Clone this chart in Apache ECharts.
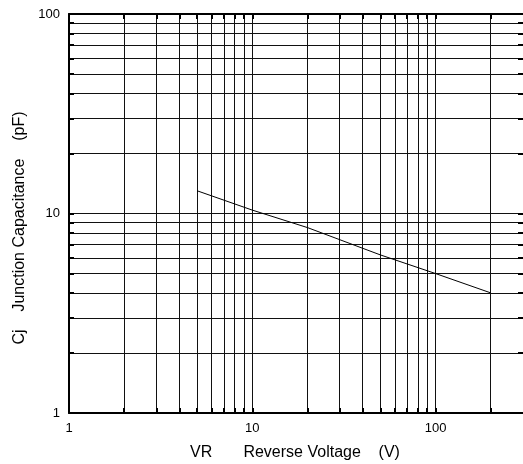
<!DOCTYPE html>
<html>
<head>
<meta charset="utf-8">
<script src="https://cdn.jsdelivr.net/npm/echarts@6/dist/echarts.min.js"></script>
<style>html,body{margin:0;padding:0;background:#fff}#c{width:523px;height:464px}</style>
</head>
<body>
<div id="c"></div>
<script>
// Data
const voltage = [5, 10, 20, 50, 100, 200];
const capacitance = [13, 10.4, 8.5, 6.2, 5.0, 4.0];
const xGrid = [1,2,3,4,5,6,7,8,9,10,20,30,40,50,60,70,80,90,100,200];
const yGrid = [1,2,3,4,5,6,7,8,9,10,20,30,40,50,60,70,80,90,100];
const xLabels = [1, 10, 100];
const yLabels = [1, 10, 100];
const xName = 'VR       Reverse Voltage    (V)';
const yName = 'Cj    Junction Capacitance    (pF)';

const font = 'Liberation Sans, Arial, sans-serif';
const chart = echarts.init(document.getElementById('c'));
const gridLeft = 69, gridTop = 14, gridBottom = 51;

function makeX(pos, main) {
  return {
    type: 'log', logBase: 10, min: 1, max: 300, position: pos,
    axisLine: {show: true, onZero: false, lineStyle: {color: '#000', width: 2}},
    axisTick: {show: true, inside: true, length: 5, customValues: xGrid, lineStyle: {color: '#000', width: 2}},
    axisLabel: main ? {show: true, customValues: xLabels, margin: 9, color: '#000', fontSize: 13, fontFamily: font} : {show: false},
    splitLine: {show: main, lineStyle: {color: '#111', width: 1}},
    minorTick: {show: false}, minorSplitLine: {show: false}
  };
}
function makeY(pos, main) {
  return {
    type: 'log', logBase: 10, min: 1, max: 100, position: pos,
    axisLine: {show: main, onZero: false, lineStyle: {color: '#000', width: 2}},
    axisTick: {show: true, inside: true, length: 5, customValues: yGrid, lineStyle: {color: '#000', width: 2}},
    axisLabel: main ? {show: true, customValues: yLabels, margin: 9, color: '#000', fontSize: 13, fontFamily: font} : {show: false},
    splitLine: {show: main, lineStyle: {color: '#111', width: 1}},
    minorTick: {show: false}, minorSplitLine: {show: false}
  };
}

chart.setOption({
  animation: false,
  backgroundColor: '#fff',
  grid: {left: gridLeft, top: gridTop, right: 0, bottom: gridBottom, containLabel: false},
  xAxis: [makeX('bottom', true), makeX('top', false)],
  yAxis: [makeY('left', true), makeY('right', false)],
  series: [{
    type: 'line',
    xAxisIndex: 0, yAxisIndex: 0,
    data: voltage.map((v, i) => [v, capacitance[i]]),
    showSymbol: false, symbol: 'none',
    lineStyle: {color: '#000', width: 1}
  }],
  graphic: [
    {type: 'text', x: 295, y: 453, style: {text: xName, fill: '#000', font: '16px ' + font, textAlign: 'center', textVerticalAlign: 'middle'}},
    {type: 'text', x: 20, y: 228, rotation: Math.PI / 2, style: {text: yName, fill: '#000', font: '16px ' + font, textAlign: 'center', textVerticalAlign: 'middle'}}
  ]
});
</script>
</body>
</html>
